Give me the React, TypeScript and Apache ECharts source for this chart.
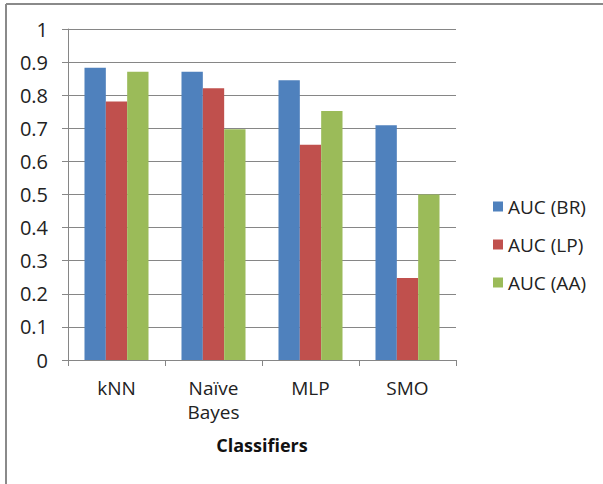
import React, { useEffect, useRef } from "react";
import * as echarts from "echarts";

const categories = ["kNN", "Naïve\nBayes", "MLP", "SMO"];
const seriesNames = ["AUC (BR)", "AUC (LP)", "AUC (AA)"];
const aucBR = [0.883, 0.871, 0.845, 0.709];
const aucLP = [0.781, 0.821, 0.65, 0.248];
const aucAA = [0.871, 0.697, 0.752, 0.5];
const colors = ["#4F81BD", "#C0504D", "#9BBB59"];

const FONT = "Open Sans";

export default function App() {
  const ref = useRef<HTMLDivElement>(null);
  useEffect(() => {
    if (!ref.current) return;
    const chart = echarts.init(ref.current, undefined, { renderer: "svg" });
    const values = [aucBR, aucLP, aucAA];
    chart.setOption({
      animation: false,
      backgroundColor: "#ffffff",
      textStyle: { fontFamily: FONT },
      grid: { left: 68, right: 147, top: 29, bottom: 124, containLabel: false },
      legend: {
        orient: "vertical",
        left: 488,
        top: 192,
        itemWidth: 10,
        itemHeight: 10,
        itemGap: 19,
        icon: "rect",
        textStyle: { fontFamily: FONT, fontSize: 19, color: "#222" },
        data: seriesNames,
      },
      xAxis: {
        type: "category",
        data: categories,
        axisLine: { lineStyle: { color: "#868686", width: 1 } },
        axisTick: { show: true, length: 6, lineStyle: { color: "#868686" } },
        axisLabel: {
          fontFamily: FONT,
          fontSize: 19,
          color: "#222",
          margin: 16,
          lineHeight: 24,
        },
        name: "Classifiers",
        nameLocation: "middle",
        nameGap: 76,
        nameTextStyle: { fontFamily: FONT, fontSize: 18, fontWeight: "bold", color: "#111" },
      },
      yAxis: {
        type: "value",
        min: 0,
        max: 1,
        interval: 0.1,
        axisLine: { show: true, lineStyle: { color: "#868686", width: 1 } },
        axisTick: { show: true, length: 6, lineStyle: { color: "#868686" } },
        axisLabel: { fontFamily: FONT, fontSize: 20, color: "#222", margin: 20 },
        splitLine: { show: true, lineStyle: { color: "#868686", width: 1 } },
      },
      series: seriesNames.map((name, i) => ({
        name,
        type: "bar",
        data: values[i],
        barGap: "0%",
        barCategoryGap: "34%",
        itemStyle: { color: colors[i] },
      })),
      graphic: [
        {
          type: "line",
          shape: { x1: 6, y1: 4, x2: 603, y2: 4 },
          style: { stroke: "#8a8a8a", lineWidth: 2 },
        },
        {
          type: "line",
          shape: { x1: 6, y1: 4, x2: 6, y2: 484 },
          style: { stroke: "#8a8a8a", lineWidth: 2 },
        },
      ],
    });
    return () => chart.dispose();
  }, []);
  return (
    <div
      ref={ref}
      style={{ position: "absolute", left: 0, top: 0, width: 603, height: 484 }}
    />
  );
}
